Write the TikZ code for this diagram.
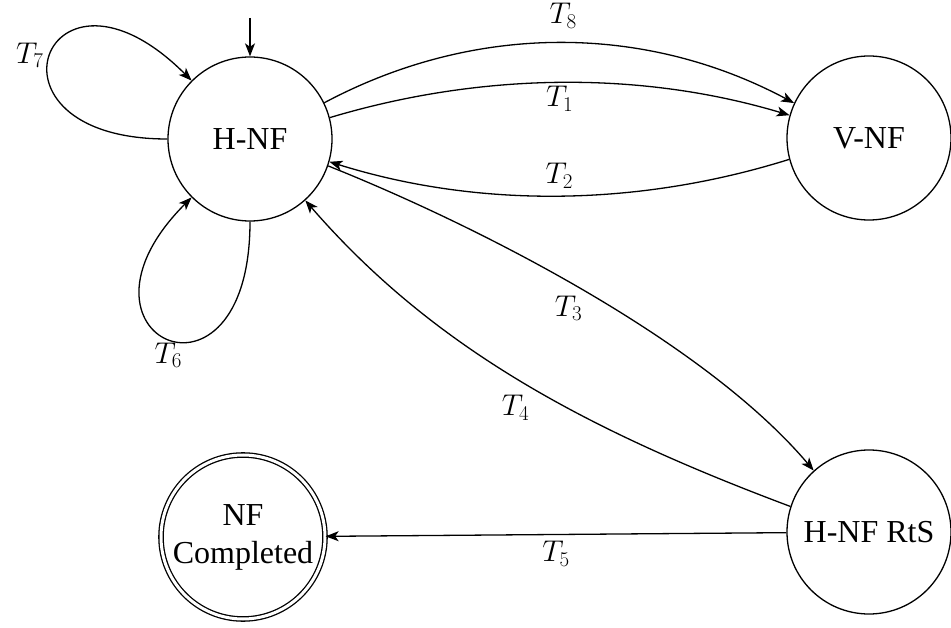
\documentclass[tikz,border=0pt]{standalone}
\usepackage{fix-cm}
\usepackage{fontspec}
\setmainfont{Liberation Serif}
\newfontfamily\nodefont{Liberation Serif}
\usetikzlibrary{arrows.meta}
\begin{document}
\begin{tikzpicture}[x=1pt,y=-1pt,
  state/.style={draw, circle, line width=1.3pt, minimum size=164pt, inner sep=0pt,
    font=\nodefont\fontsize{32}{38}\selectfont, align=center},
  finalstate/.style={state, double, double distance=3pt},
  tr/.style={line width=1.3pt, -{Stealth[length=13pt,width=10pt,inset=3.5pt]}},
  lbl/.style={font=\fontsize{30}{34}\selectfont, inner sep=3pt}]
\useasboundingbox (0,0) rectangle (951,628);
\node[state] (H) at (250,139) {H-NF};
\node[state] (V) at (869,138) {V-NF};
\node[state] (R) at (869,532) {H-NF RtS};
\node[finalstate] (N) at (243,537) {NF\\Completed};
\coordinate (start) at (250,18);
\draw[tr] (start) -- (H.north);
% self loops
\draw[tr] (H.west) .. controls +(-200,0) and +(-145,-145) .. node[lbl, midway, left=3pt] {$T_7$} (H.135);
\draw[tr] (H.south) .. controls +(0,205) and +(-140,140) .. node[lbl, midway, below] {$T_6$} (H.225);
% H <-> V
\draw[tr] (H.26) .. controls +(150,-80) and +(-150,-80) .. node[lbl, midway, above=11pt, xshift=4pt] {$T_8$} (V.155);
\draw[tr] (H.15) .. controls +(150,-45) and +(-150,-45) .. node[lbl, midway, below] {$T_1$} (V.164);
\draw[tr] (V.195) .. controls +(-150,47) and +(150,47) .. node[lbl, midway, above=4pt] {$T_2$} (H.-16);
% H <-> R
\draw[tr] (H.-19) .. controls +(150,60) and +(-110,-130) .. node[lbl, midway, below left] {$T_3$} (R.132);
\draw[tr] (R.162) .. controls +(-200,-75) and +(130,150) .. node[lbl, midway, below=10pt, xshift=-6pt] {$T_4$} (H.-48);
% R -> N
\draw[tr] (R) -- node[lbl, midway, below=3pt] {$T_5$} (N);
\end{tikzpicture}
\end{document}
